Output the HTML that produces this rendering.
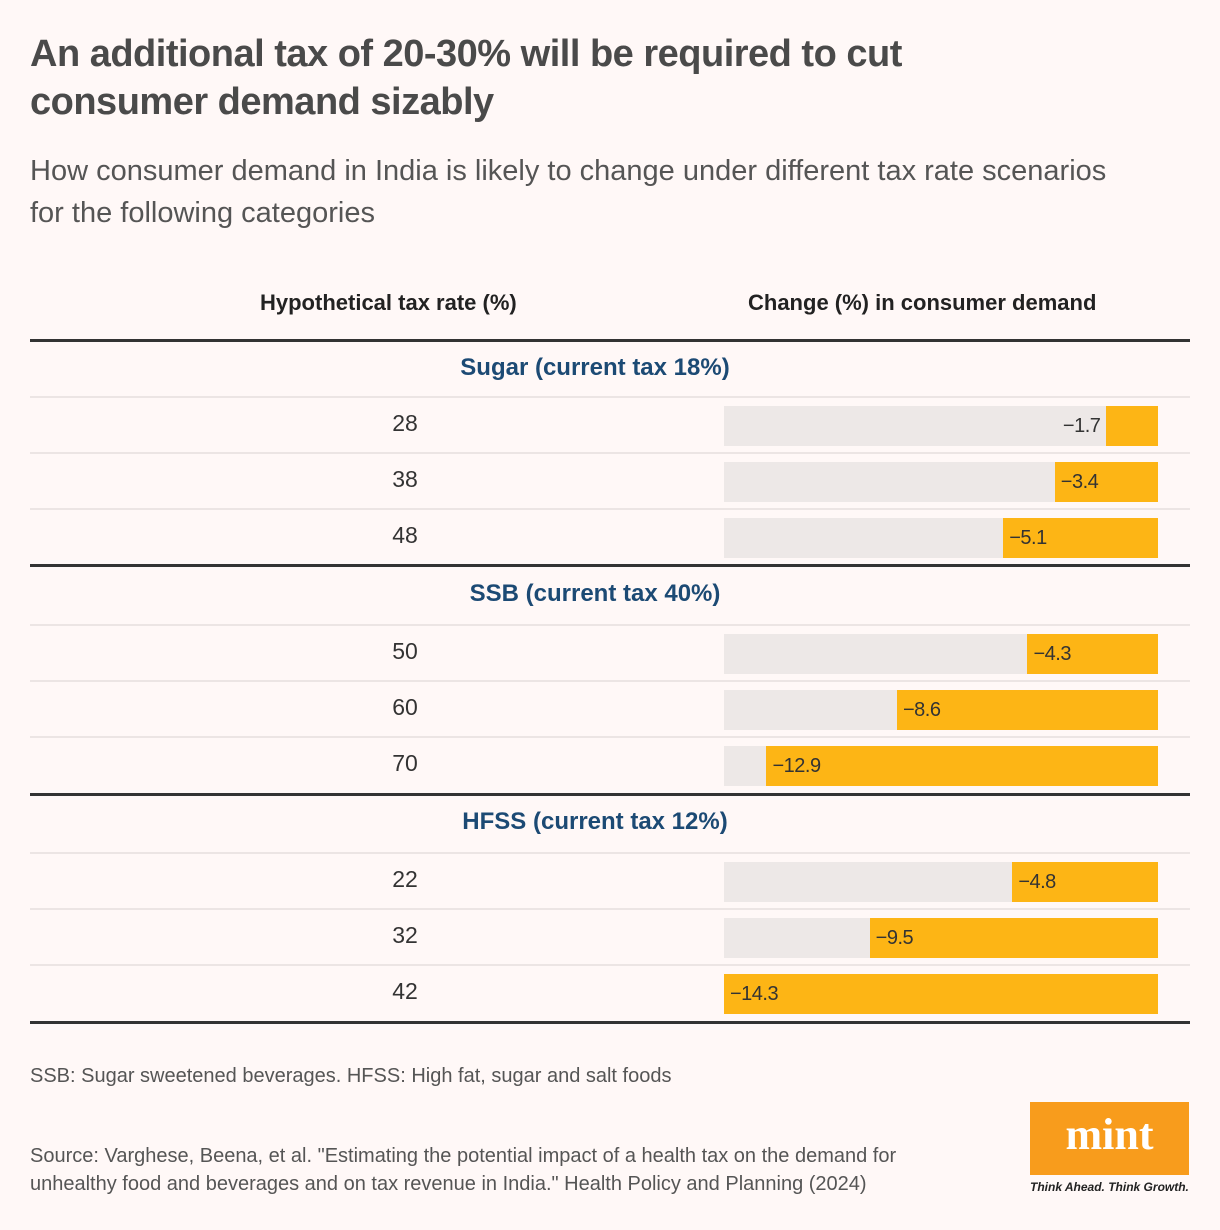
<!DOCTYPE html>
<html><head><meta charset="utf-8"><style>
body{margin:0;width:1220px;height:1230px;background:#fff8f7;font-family:"Liberation Sans",sans-serif;position:relative;overflow:hidden;color:#222}
.abs{position:absolute}
h1{position:absolute;left:30px;top:30px;margin:0;font-size:38px;line-height:48px;font-weight:bold;color:#4a4a4a;letter-spacing:-0.5px;width:990px}
.sub{left:30px;top:150px;font-size:29px;line-height:42px;color:#555;width:1100px}
.colh{top:290px;font-size:22px;font-weight:bold;color:#222}
.thick{left:30px;width:1160px;height:3px;background:#333}
.thin{left:30px;width:1160px;height:2px;background:#ece5e4}
.sec{left:30px;width:1130px;text-align:center;font-size:24px;font-weight:bold;color:#1c4a74}
.rate{left:300px;width:210px;text-align:center;font-size:23px;color:#333}
.bg{left:724px;width:434px;height:40px;background:#ede8e7}
.bar{height:40px;background:#fdb515}
.val{font-size:20px;color:#333;line-height:40px;letter-spacing:-0.5px}
.note{left:30px;font-size:20px;color:#555;line-height:28px}
</style></head><body>
<h1>An additional tax of 20-30% will be required to cut consumer demand sizably</h1>
<div class="abs sub">How consumer demand in India is likely to change under different tax rate scenarios for the following categories</div>
<div class="abs colh" style="left:260px">Hypothetical tax rate (%)</div>
<div class="abs colh" style="left:748px">Change (%) in consumer demand</div>
<div id="chart"></div>
<div class="abs note" style="top:1062px">SSB: Sugar sweetened beverages. HFSS: High fat, sugar and salt foods</div>
<div class="abs note" style="top:1142px;width:940px">Source: Varghese, Beena, et al. "Estimating the potential impact of a health tax on the demand for unhealthy food and beverages and on tax revenue in India." Health Policy and Planning (2024)</div>
<div class="abs" style="left:1030px;top:1102px;width:159px;height:73px;background:#f89c1c;color:#fff;font-family:'Liberation Serif',serif;font-weight:bold;font-size:44px;text-align:center;line-height:66px">mint</div>
<div class="abs" style="left:1030px;top:1180px;font-size:12px;font-style:italic;font-weight:bold;color:#222">Think Ahead. Think Growth.</div>
<script>
const groups=["Sugar (current tax 18%)","SSB (current tax 40%)","HFSS (current tax 12%)"];
const rates=[[28,38,48],[50,60,70],[22,32,42]];
const values=[[-1.7,-3.4,-5.1],[-4.3,-8.6,-12.9],[-4.8,-9.5,-14.3]];
const maxAbs=14.3;
const x0=724,W=434;
function xs(v){return W*Math.abs(v)/maxAbs;}
const c=document.getElementById('chart');
function add(cls,style,text){const d=document.createElement('div');d.className='abs '+cls;d.setAttribute('style',style);if(text!==undefined)d.textContent=text;c.appendChild(d);return d;}
const secTop=[340,565,794];
groups.forEach((g,gi)=>{
  const t=secTop[gi];
  let e=add('thick','top:'+(t-1)+'px');
  
  
  const r0=t+57+(gi==1?3:gi==2?2:0);
  e=add('sec','top:'+(t+14+(gi==1?1:0))+'px',g);
  
  
  rates[gi].forEach((r,ri)=>{
    const y=r0+ri*56;
    e=add('thin','top:'+(y-1)+'px');
    
    
    e=add('rate','top:'+(y+13)+'px',String(r));
    
    
    e=add('bg','top:'+(y+9)+'px');
    
    
    const v=values[gi][ri],w=xs(v);
    e=add('bar','top:'+(y+9)+'px;left:'+(x0+W-w)+'px;width:'+w+'px');
    
    
    const txt='\u2212'+Math.abs(v).toFixed(1);
    let st;
    if(w<70) st='top:'+(y+9)+'px;left:'+(x0+W-w-6-40)+'px;width:40px;text-align:right';
    else st='top:'+(y+9)+'px;left:'+(x0+W-w+6)+'px';
    e=add('val',st,txt);
    
    
  });
});
let e=add('thick','top:1021px');


</script>
</body></html>
